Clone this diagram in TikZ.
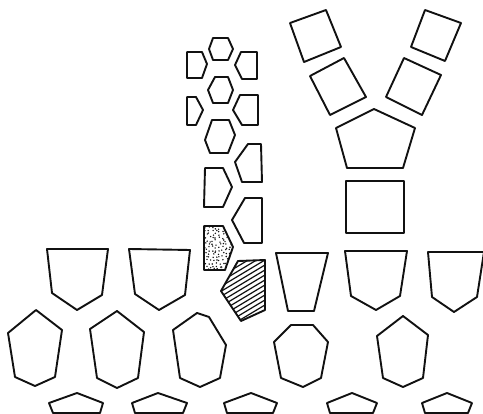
\documentclass[tikz,border=0pt]{standalone}
\usepackage{xcolor}
\definecolor{ink}{HTML}{111111}

\begin{document}
\begin{tikzpicture}[x=1pt, y=-1pt]
  % picture is laid out in pixel units, y running down
  \useasboundingbox (0,0) rectangle (483,414);
  \tikzset{
    cell/.style={draw=ink, line width=1.9pt, line join=round},
    hatchline/.style={draw=ink, line width=1.2pt},
    stipple/.style={fill=ink}}

  % ========== the Y: squares in two arms, pentagon, square stem ==========
  \draw[cell] (290,23) -- (326,10) -- (341,47) -- (304,62) -- cycle;
  \draw[cell] (310,76) -- (344,58) -- (366,97) -- (330,115) -- cycle;
  \draw[cell] (425,10) -- (461,23) -- (445,61) -- (411,47) -- cycle;
  \draw[cell] (404,58) -- (441,75) -- (422,115) -- (386,97) -- cycle;
  \draw[cell] (374,109) -- (415,128) -- (403,168) -- (347,168) -- (336,128) -- cycle;
  \draw[cell] (346,181) rectangle (404,233);

  % ========== the column of small cells ==========
  % hexagons in the middle
  \draw[cell] (213,38) -- (228,38) -- (233,49) -- (228,60) -- (213,60) -- (209,49) -- cycle;
  \draw[cell] (215,77) -- (228,77) -- (233,90) -- (228,103) -- (213,103) -- (208,90) -- cycle;
  \draw[cell] (212,120) -- (229,120) -- (235,135) -- (228,153) -- (210,153) -- (205,140) -- cycle;
  % left cells, point to the right
  \draw[cell] (187,52) -- (202,52) -- (207,64) -- (202,78) -- (187,78) -- cycle;
  \draw[cell] (187,97) -- (196,97) -- (203,110) -- (196,125) -- (187,125) -- cycle;
  \draw[cell] (205,168) -- (223,168) -- (232,187) -- (223,207) -- (204,207) -- cycle;
  % right cells, point to the left
  \draw[cell] (241,52) -- (257,52) -- (257,79) -- (242,79) -- (235,65) -- cycle;
  \draw[cell] (240,95) -- (258,95) -- (258,125) -- (242,125) -- (233,110) -- cycle;
  \draw[cell] (248,144) -- (261,144) -- (262,182) -- (242,182) -- (235,162) -- cycle;
  \draw[cell] (245,198) -- (262,198) -- (262,243) -- (244,243) -- (232,220) -- cycle;

  % the stippled cell -- jittered grid, so the dots spread evenly
  \begin{scope}
    \clip (204,226) -- (223,226) -- (233,247) -- (225,270) -- (204,270) -- cycle;
    \pgfmathsetseed{4}
    \foreach \i in {0,...,8}
      \foreach \j in {0,...,13}
        \fill[stipple] ({206+3.4*\i+1.4*rand},{228+3.2*\j+1.3*rand}) circle (0.8pt);
  \end{scope}
  \draw[cell] (204,226) -- (223,226) -- (233,247) -- (225,270) -- (204,270) -- cycle;

  % the hatched cell
  \begin{scope}
    \clip (238,261) -- (265,260) -- (265,310) -- (241,321) -- (221,291) -- cycle;
    \foreach \c in {250,255,...,380}
      \draw[hatchline] (215,\c) -- (275,{\c-36});
  \end{scope}
  \draw[cell] (238,261) -- (265,260) -- (265,310) -- (241,321) -- (221,291) -- cycle;

  % ========== upper row: shields and a trapezoid ==========
  \draw[cell] (47,249) -- (108,249) -- (102,295) -- (77,310) -- (52,293) -- cycle;
  \draw[cell] (129,249) -- (190,250) -- (185,295) -- (159,310) -- (135,294) -- cycle;
  \draw[cell] (276,253) -- (328,253) -- (314,311) -- (288,311) -- cycle;
  \draw[cell] (345,251) -- (407,251) -- (400,296) -- (376,310) -- (351,296) -- cycle;
  \draw[cell] (428,252) -- (484,252) -- (477,297) -- (454,312) -- (432,297) -- cycle;

  % ========== middle row: larger hexagons ==========
  \draw[cell] (36,310) -- (62,330) -- (55,377) -- (35,386) -- (15,377) -- (8,333) -- cycle;
  \draw[cell] (117,311) -- (144,332) -- (138,378) -- (117,388) -- (97,378) -- (90,329) -- cycle;
  \draw[cell] (197,313) -- (209,317) -- (226,345) -- (220,378) -- (200,387) -- (180,378) -- (173,330) -- cycle;
  \draw[cell] (291,325) -- (313,325) -- (328,342) -- (321,378) -- (303,387) -- (281,378) -- (274,342) -- cycle;
  \draw[cell] (403,316) -- (428,335) -- (423,378) -- (403,387) -- (383,378) -- (377,336) -- cycle;

  % ========== bottom row: flat pentagons, cut by the edge ==========
  \draw[cell] (77,393) -- (103,403) -- (100,413) -- (53,413) -- (49,403) -- cycle;
  \draw[cell] (158,393) -- (187,403) -- (183,413) -- (135,413) -- (132,403) -- cycle;
  \draw[cell] (251,393) -- (277,403) -- (273,413) -- (227,413) -- (224,403) -- cycle;
  \draw[cell] (352,393) -- (377,403) -- (373,413) -- (330,413) -- (327,403) -- cycle;
  \draw[cell] (447,393) -- (472,403) -- (468,413) -- (425,413) -- (422,403) -- cycle;
\end{tikzpicture}
\end{document}
